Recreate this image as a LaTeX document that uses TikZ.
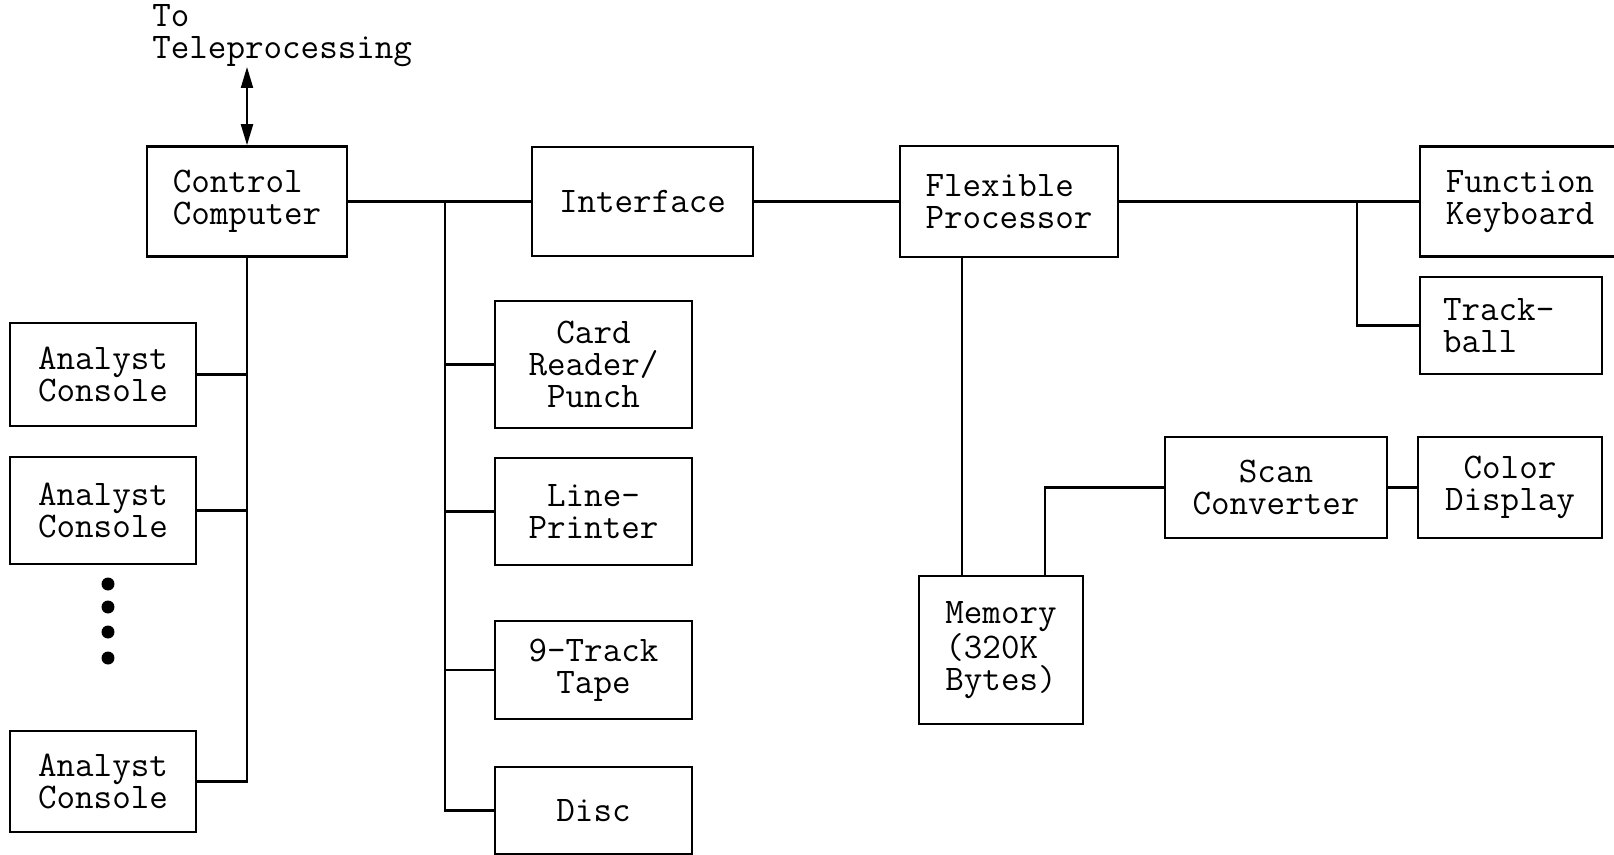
\documentclass[tikz,border=0pt]{standalone}
\usepackage{fontspec}
\usetikzlibrary{positioning, arrows.meta}

\begin{document}
\begin{tikzpicture}[
    x=0.02cm, y=-0.02cm,
    blk/.style={rectangle, draw, line width=1.5pt, inner sep=2pt, font=\ttfamily\fontsize{20.5}{18.2}\selectfont},
    wire/.style={line width=1.5pt},
    link/.style={{Triangle[length=0.42cm, width=0.24cm]}-{Triangle[length=0.42cm, width=0.24cm]}, line width=1.2pt},
    note/.style={inner sep=0pt, align=left, font=\ttfamily\fontsize{20.5}{18.2}\selectfont}
]
\useasboundingbox (0,0) rectangle (1614,855);

% Control computer and teleprocessing
\node[note, anchor=south west] (tele) at (152,67) {To\\Teleprocessing};
\node[blk, align=left, minimum width=4.0cm, minimum height=2.2cm] (cc) at (247,201.5) {Control\\Computer};

% Top row
\node[blk, minimum width=4.42cm, minimum height=2.18cm] (iface) at (642.5,201.5) {Interface};
\node[blk, align=left, minimum width=4.36cm, minimum height=2.22cm] (fp) at (1009,201.5) {Flexible\\Processor};
\node[blk, align=left, minimum width=4.0cm, minimum height=2.2cm] (fk) at (1520,201.5) {Function\\Keyboard};
\node[blk, align=left, text width=2.72cm, minimum width=3.64cm, minimum height=1.94cm] (tb) at (1511,325.5) {Track-\\ball};

% Analyst consoles
\node[blk, align=center, minimum width=3.72cm, minimum height=2.06cm] (ac1) at (103,374.5) {Analyst\\Console};
\node[blk, align=center, minimum width=3.72cm, minimum height=2.14cm] (ac2) at (103,510.5) {Analyst\\Console};
\node[blk, align=center, minimum width=3.72cm, minimum height=2.02cm] (ac3) at (103,781.5) {Analyst\\Console};
\foreach \y in {584,607,632,658}
    \fill (108,\y) circle (0.13cm);

% Peripherals
\node[blk, align=center, minimum width=3.94cm, minimum height=2.54cm] (crp) at (593.5,364.5) {Card\\Reader/\\Punch};
\node[blk, align=center, minimum width=3.94cm, minimum height=2.14cm] (lp) at (593.5,511.5) {Line-\\Printer};
\node[blk, align=center, minimum width=3.94cm, minimum height=1.96cm] (tape) at (593.5,670) {9-Track\\Tape};
\node[blk, minimum width=3.94cm, minimum height=1.74cm] (disc) at (593.5,810.5) {Disc};

% Memory and display chain
\node[blk, align=left, minimum width=3.28cm, minimum height=2.96cm] (mem) at (1001,650) {Memory\\(320K\\Bytes)};
\node[blk, align=center, minimum width=4.44cm, minimum height=2.02cm] (sc) at (1276,487.5) {Scan\\Converter};
\node[blk, align=center, minimum width=3.68cm, minimum height=2.02cm] (cd) at (1510,487.5) {Color\\Display};

% Taps on the lines
\coordinate (bus) at (445,201.5);
\coordinate (tbus) at (1357,201.5);
\coordinate (fpm) at (962,400);
\coordinate (msc) at (1045,500);

% Connections
\draw[link] (cc.north) -- (cc.north |- tele.south);
\draw[wire] (cc.east) -- (iface.west);
\draw[wire] (iface.east) -- (fp.west);
\draw[wire] (fp.east) -- (fk.west);
\draw[wire] (tbus) |- (tb.west);
\draw[wire] (cc.south) |- (ac3.east);
\foreach \n in {ac1,ac2}
    \draw[wire] (\n.east) -- (\n.east -| cc.south);
\draw[wire] (bus) |- (disc.west);
\foreach \n in {crp,lp,tape}
    \draw[wire] (\n.west) -- (\n.west -| bus);
\draw[wire] (fp.south -| fpm) -- (mem.north -| fpm);
\draw[wire] (mem.north -| msc) |- (sc.west);
\draw[wire] (sc.east) -- (cd.west);

\end{tikzpicture}
\end{document}
